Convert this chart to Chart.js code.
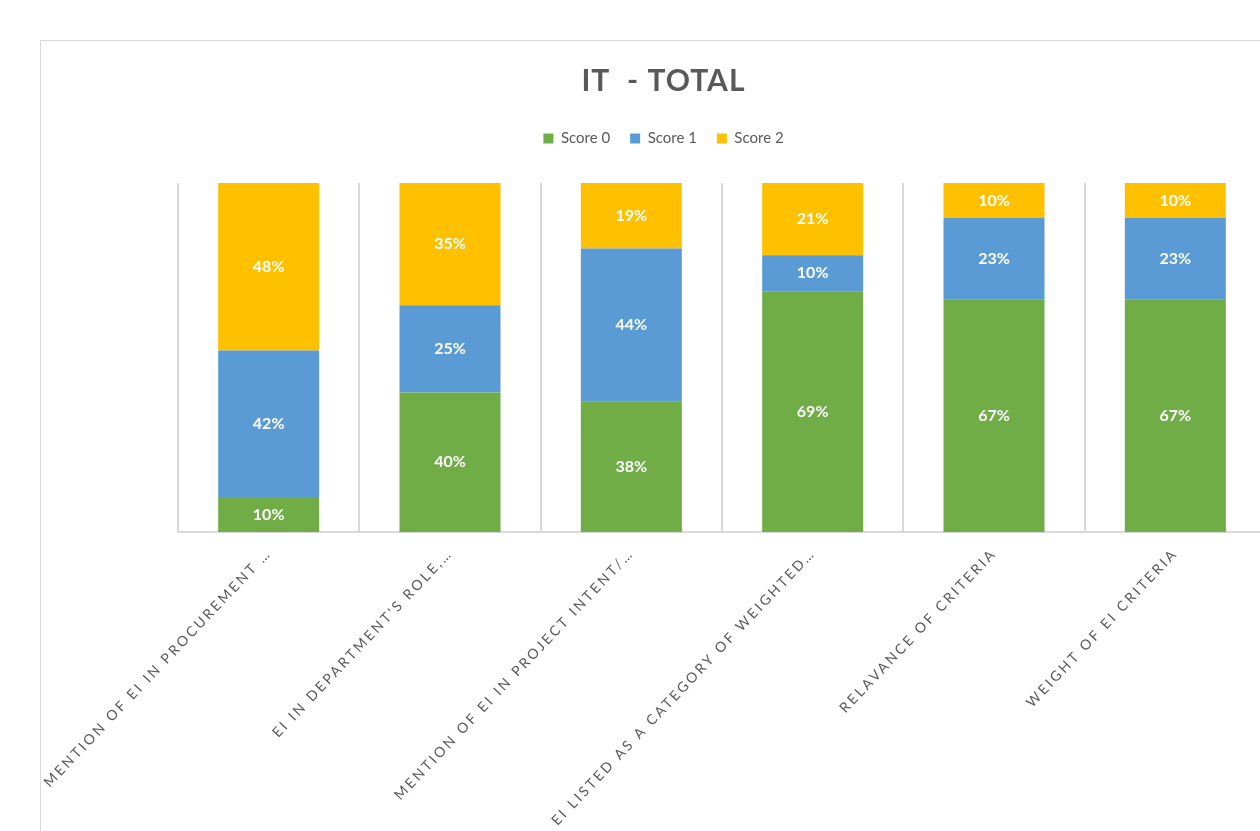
<!DOCTYPE html>
<html>
<head>
<meta charset="utf-8">
<script src="https://cdn.jsdelivr.net/npm/chart.js@4"></script>
<style>
  html, body { margin: 0; padding: 0; background: #fff; overflow: hidden; }
  #box { position: absolute; left: 40px; top: 40px; width: 1245px; height: 820px; border: 1px solid #d9d9d9; }
</style>
</head>
<body>
<div id="box"><canvas id="chart" width="1245" height="790"></canvas></div>
<script>
const categories = [
  "MENTION OF EI IN PROCUREMENT …",
  "EI IN DEPARTMENT'S ROLE,…",
  "MENTION OF EI IN PROJECT INTENT/…",
  "EI LISTED AS A CATEGORY OF WEIGHTED…",
  "RELAVANCE OF CRITERIA",
  "WEIGHT OF EI CRITERIA"
];
const score0 = [10, 40, 37.5, 68.97, 66.67, 66.67];
const score1 = [42, 25, 43.75, 10.34, 23.33, 23.33];
const score2 = [48, 35, 18.75, 20.69, 10, 10];

const FONT = "Lato, 'Open Sans', sans-serif";
const GREY = "#595959";

// white percentage labels in the middle of every segment
const barLabels = {
  id: "barLabels",
  afterDatasetsDraw(chart) {
    const ctx = chart.ctx;
    ctx.save();
    ctx.fillStyle = "#fff";
    ctx.font = "bold 16px " + FONT;
    ctx.textAlign = "center";
    ctx.textBaseline = "middle";
    chart.data.datasets.forEach((ds, i) => {
      chart.getDatasetMeta(i).data.forEach((bar, j) => {
        const y = (bar.y + bar.base) / 2;
        ctx.fillText(Math.round(ds.data[j]) + "%", bar.x, y);
      });
    });
    ctx.restore();
  }
};

// spaced-out category labels, spaced title, a bit more room under the legend
const tweaks = {
  id: "tweaks",
  beforeLayout(chart) {
    const lg = chart.legend;
    if (lg && !lg._patched) {
      const fit = lg.fit;
      lg.fit = function () { fit.call(this); this.height += 27; };
      lg._patched = true;
    }
  },
  afterLayout(chart) {
    const sc = chart.scales.x;
    if (!sc._patched) {
      const orig = sc.drawLabels;
      sc.drawLabels = function (area) {
        chart.ctx.save();
        chart.ctx.letterSpacing = "2.6px";
        orig.call(this, area);
        chart.ctx.restore();
      };
      sc._patched = true;
    }
    const t = chart.titleBlock;
    if (t && !t._patched) {
      const draw = t.draw;
      t.draw = function () {
        chart.ctx.save();
        chart.ctx.letterSpacing = "1px";
        draw.call(this);
        chart.ctx.restore();
      };
      t._patched = true;
    }
  }
};

new Chart(document.getElementById("chart"), {
  type: "bar",
  data: {
    labels: categories,
    datasets: [
      { label: "Score 0", data: score0, backgroundColor: "#70AD47" },
      { label: "Score 1", data: score1, backgroundColor: "#5B9BD5" },
      { label: "Score 2", data: score2, backgroundColor: "#FFC000" }
    ]
  },
  options: {
    responsive: false,
    animation: false,
    layout: { padding: 0 },
    datasets: { bar: { barPercentage: 0.557, categoryPercentage: 1 } },
    plugins: {
      title: {
        display: true,
        text: "IT  - TOTAL",
        color: GREY,
        font: { family: FONT, size: 30, weight: "bold" },
        padding: { top: 22, bottom: 12 }
      },
      legend: {
        display: true,
        position: "top",
        labels: {
          boxWidth: 10,
          boxHeight: 10,
          color: GREY,
          padding: 20,
          font: { family: FONT, size: 15 }
        }
      },
      tooltip: { enabled: false }
    },
    scales: {
      x: {
        stacked: true,
        grid: { display: true, offset: true, color: "#d9d9d9", lineWidth: 2, drawTicks: false },
        border: { display: true, color: "#d9d9d9", width: 2 },
        ticks: {
          color: GREY,
          font: { family: FONT, size: 14 },
          minRotation: 46.5,
          maxRotation: 46.5,
          padding: 13,
          autoSkip: false
        },
        afterFit: (s) => { s.height = 299; }
      },
      y: {
        stacked: true,
        min: 0,
        max: 100,
        grid: { display: false },
        border: { display: false },
        ticks: { display: false },
        afterFit: (s) => { s.width = 137; }
      },
      yRight: {
        position: "right",
        display: true,
        grid: { display: false },
        border: { display: false },
        ticks: { display: false },
        afterFit: (s) => { s.width = 20; }
      }
    }
  },
  plugins: [barLabels, tweaks]
});
</script>
</body>
</html>
